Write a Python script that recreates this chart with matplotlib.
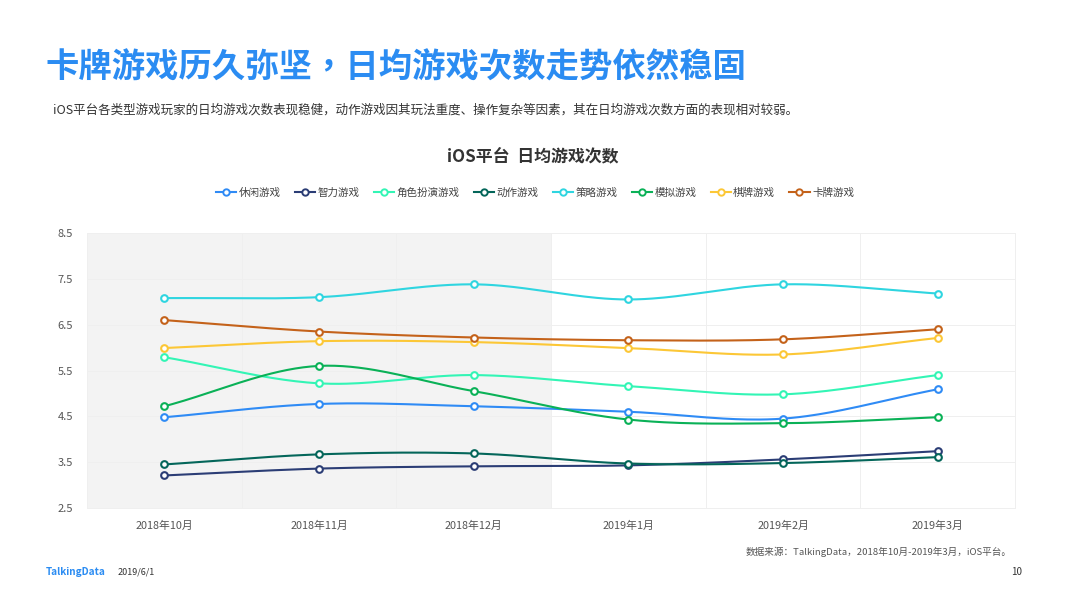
import numpy as np
import matplotlib
matplotlib.use('Agg')
import matplotlib.pyplot as plt
from matplotlib.lines import Line2D

plt.rcParams['font.family'] = ['Noto Sans CJK SC', 'DejaVu Sans']

months = ['2018年10月', '2018年11月', '2018年12月', '2019年1月', '2019年2月', '2019年3月']
yticks = [2.5, 3.5, 4.5, 5.5, 6.5, 7.5, 8.5]

casual = [4.48, 4.77, 4.72, 4.60, 4.45, 5.09]
puzzle = [3.21, 3.36, 3.41, 3.43, 3.56, 3.74]
rpg = [5.79, 5.22, 5.40, 5.16, 4.98, 5.40]
action = [3.45, 3.67, 3.69, 3.47, 3.48, 3.61]
strategy = [7.08, 7.10, 7.38, 7.05, 7.38, 7.18]
simulation = [4.72, 5.60, 5.05, 4.43, 4.35, 4.48]
board = [5.99, 6.14, 6.12, 5.99, 5.85, 6.21]
card = [6.60, 6.35, 6.22, 6.16, 6.18, 6.40]

names = ['休闲游戏', '智力游戏', '角色扮演游戏', '动作游戏', '策略游戏', '模拟游戏', '棋牌游戏', '卡牌游戏']
series = [casual, puzzle, rpg, action, strategy, simulation, board, card]
colors = ['#2f8bf5', '#2b3d75', '#33f5b5', '#04665a', '#2fd5e0', '#0ab157', '#fcc736', '#c4621a']


def smooth(y, n=40):
    # catmull-rom through the points, only for the drawn curve
    y = np.array(y, dtype=float)
    m = np.gradient(y)
    xs, ys = [], []
    for i in range(len(y) - 1):
        t = np.linspace(0, 1, n)
        h00 = 2*t**3 - 3*t**2 + 1
        h10 = t**3 - 2*t**2 + t
        h01 = -2*t**3 + 3*t**2
        h11 = t**3 - t**2
        xs.append(i + t)
        ys.append(h00*y[i] + h10*m[i] + h01*y[i+1] + h11*m[i+1])
    return np.concatenate(xs), np.concatenate(ys)


W, H = 1066, 599
fig = plt.figure(figsize=(W/100, H/100), dpi=100, facecolor='white')
ax = fig.add_axes((87/W, 1 - 508/H, 928/W, 275/H))

x = np.arange(len(months))
ax.axvspan(-0.5, 2.5, color='#f3f3f3', zorder=0, lw=0)

for vals, c in zip(series, colors):
    sx, sy = smooth(vals)
    ax.plot(sx, sy, color=c, lw=1.5, zorder=3, solid_capstyle='round')
    ax.plot(x, vals, 'o', ms=4.8, mfc='white', mec=c, mew=1.5, zorder=4, ls='none')

ax.set_xlim(-0.5, 5.5)
ax.set_ylim(2.5, 8.5)
ax.set_yticks(yticks)
ax.set_yticklabels([str(t) for t in yticks], fontsize=8, color='#555555')
ax.set_xticks(x)
ax.set_xticklabels(months, fontsize=7.8, color='#555555')
ax.set_xticks(np.arange(-0.5, 6), minor=True)
ax.tick_params(which='both', length=0)
ax.tick_params(axis='x', pad=9)
ax.tick_params(axis='y', pad=10)
ax.grid(True, axis='y', color='#efefef', lw=0.7, zorder=1)
ax.grid(True, axis='x', which='minor', color='#efefef', lw=0.7, zorder=1)
ax.grid(False, axis='x', which='major')
ax.set_axisbelow(True)
for s in ax.spines.values():
    s.set_color('#efefef')
    s.set_linewidth(0.7)

handles = [Line2D([0], [0], color=c, lw=1.5, marker='o', ms=4.6, mfc='white', mec=c, mew=1.4) for c in colors]
fig.legend(handles, names, loc='center', bbox_to_anchor=(535/W, 1 - 193/H), ncol=8, frameon=False,
           fontsize=7.6, labelcolor='#444444', handlelength=1.9, handletextpad=0.25,
           columnspacing=1.35, borderpad=0)


def px_text(px, py, s, **kw):
    fig.text(px/W, 1 - py/H, s, va='center', **kw)


# TC face has the centred comma the title uses
px_text(45, 68, '卡牌游戏历久弥坚，日均游戏次数走势依然稳固', fontsize=24, fontweight='bold', color='#2b8cf2',
        family=['Noto Sans CJK TC', 'DejaVu Sans'])
px_text(53, 110, 'iOS平台各类型游戏玩家的日均游戏次数表现稳健，动作游戏因其玩法重度、操作复杂等因素，其在日均游戏次数方面的表现相对较弱。',
        fontsize=9.0, color='#333333')
px_text(533, 156, 'iOS平台  日均游戏次数', fontsize=12.2, fontweight='bold', color='#333333', ha='center')
px_text(1012, 552, '数据来源：TalkingData，2018年10月-2019年3月，iOS平台。', fontsize=6.9, color='#555555',
        ha='right', style='italic')
px_text(46, 572, 'TalkingData', fontsize=7.2, fontweight='bold', color='#2b8cf2')
px_text(118, 572, '2019/6/1', fontsize=6.5, color='#333333')
px_text(1022, 572, '10', fontsize=7, color='#333333', ha='right')

fig.savefig('out.png', dpi=100)
